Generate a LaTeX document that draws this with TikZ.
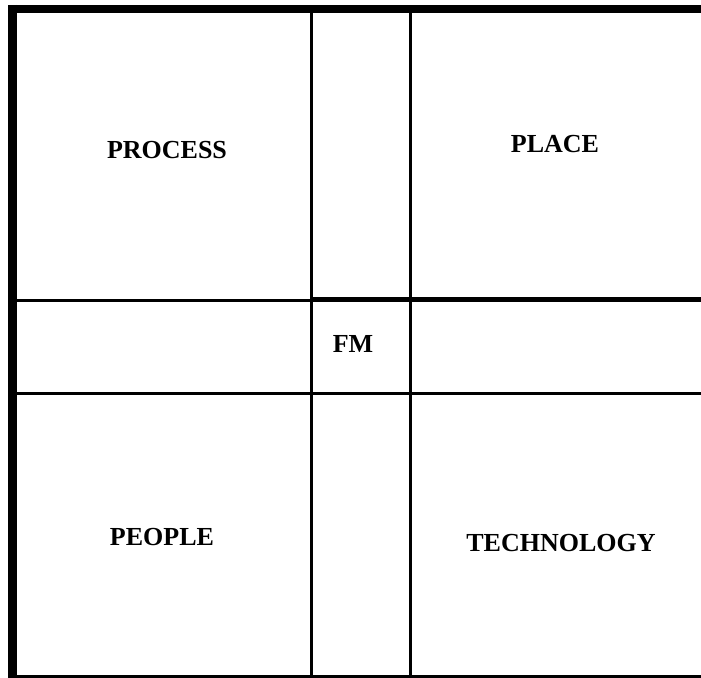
\documentclass[tikz,border=0pt]{standalone}
\usepackage{fontspec}
\setmainfont{Liberation Serif}
\tikzset{
  grid/.style={line width=1.5pt},
  label/.style={font=\fontsize{13}{15}\selectfont\bfseries, inner sep=0pt}
}
\begin{document}
\begin{tikzpicture}[x=0.5pt, y=-0.5pt]
	\useasboundingbox (0,0) rectangle (701,678);
	% outer frame, open on the right
	\draw [line width=4.5pt] (12.5,5) -- (12.5,678);
	\draw [line width=4pt] (8,9) -- (701,9);
	\draw [grid] (8,676.5) -- (701,676.5);
	% cross bands
	\foreach \x in {311.5,410.5} {
		\draw [grid] (\x,13) -- (\x,675);
	}
	\draw [grid] (17,300.5) -- (311,300.5);
	\draw [line width=2.5pt] (311,299.5) -- (701,299.5);
	\draw [grid] (17,394) -- (701,394);
	% quadrant labels
	\node [label] (process) at (167,150) {PROCESS};
	\node [label] (place) at (555,144) {PLACE};
	\node [label] (fm) at (353,344) {FM};
	\node [label] (people) at (162,537) {PEOPLE};
	\node [label] (tech) at (561,543) {TECHNOLOGY};
\end{tikzpicture}
\end{document}
